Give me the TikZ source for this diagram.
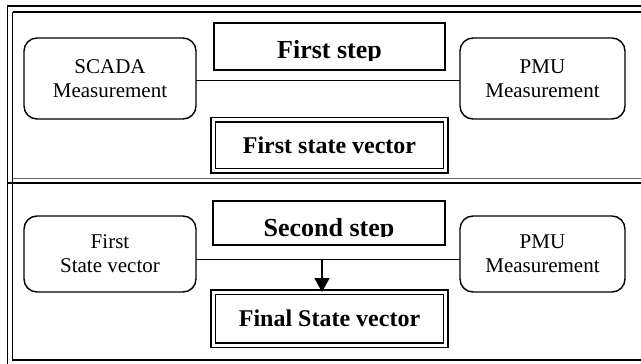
\documentclass[tikz,border=0pt]{standalone}
\usepackage{fontspec}
\setmainfont{Liberation Serif}
\usetikzlibrary{arrows.meta}
\tikzset{
  frameline/.style={line width=1.8pt, line cap=butt},
  rbox/.style={draw, line width=1.4pt, rounded corners=13pt, inner sep=0pt, outer sep=0pt,
    align=center, font=\fontsize{21}{24}\selectfont},
  stepbox/.style={draw, line width=1.3pt, inner sep=0pt, outer sep=0pt},
  steptext/.style={font=\fontsize{26}{30}\selectfont\bfseries, anchor=base, inner sep=0pt},
  dbox/.style={draw, double, double distance=3pt, line width=1.5pt, inner sep=0pt, outer sep=0pt,
    font=\fontsize{24}{28}\selectfont\bfseries, minimum width=232.5pt},
  link/.style={line width=1.2pt},
  arrowlink/.style={line width=1.4pt, -{Triangle[width=15pt,length=14pt]}}
}
\begin{document}
\begin{tikzpicture}[x=1pt,y=-1pt]
\useasboundingbox (0,0) rectangle (641,364);
\fill[white] (0,0) rectangle (641,364);
% frames
\draw[frameline] (7,6) -- (641,6);
\draw[frameline] (12.5,12) -- (641,12);
\draw[frameline] (7.5,6) -- (7.5,364);
\draw[frameline] (12.5,12) -- (12.5,361);
\draw[line width=1pt, black!60] (12.5,178.3) -- (641,178.3);
\draw[line width=2.3pt] (6.5,183.3) -- (641,183.3);
\draw[line width=2pt] (12.5,360) -- (641,360);

% ---------- first step panel ----------
\node[rbox, minimum width=172pt, minimum height=81pt] (scada) at (110,78.5) {SCADA\\Measurement};
\node[rbox, minimum width=165pt, minimum height=81pt] (pmu1) at (542.5,78.5) {PMU\\Measurement};
\node[stepbox, minimum width=231pt, minimum height=47pt] (s1) at (329.5,46.5) {};
\begin{scope}
  \clip (214,23) rectangle (445,60);
  \node[steptext] (s1t) at (329.5,59) {First step};
\end{scope}
\draw[link] ([yshift=-2.3pt]scada.east) -- ([yshift=-2.3pt]pmu1.west);
\node[dbox, minimum height=51pt] (fsv) at (329.5,145) {First state vector};

% ---------- second step panel ----------
\node[rbox, minimum width=172pt, minimum height=76pt] (fsv2) at (110,254) {First\\State vector};
\node[rbox, minimum width=165pt, minimum height=76pt] (pmu2) at (542.5,254) {PMU\\Measurement};
\node[stepbox, minimum width=232pt, minimum height=44pt] (s2) at (329,223) {};
\begin{scope}
  \clip (213,201) rectangle (445,236.5);
  \node[steptext] (s2t) at (329,236) {Second step};
\end{scope}
\draw[link] ([yshift=-5.7pt]fsv2.east) -- ([yshift=-5.7pt]pmu2.west);
\node[dbox, minimum height=53pt] (fin) at (329.5,318.5) {Final State vector};
\coordinate (j) at (322,259.7);
\draw[arrowlink] (j) -- (j |- fin.north);
\end{tikzpicture}
\end{document}
